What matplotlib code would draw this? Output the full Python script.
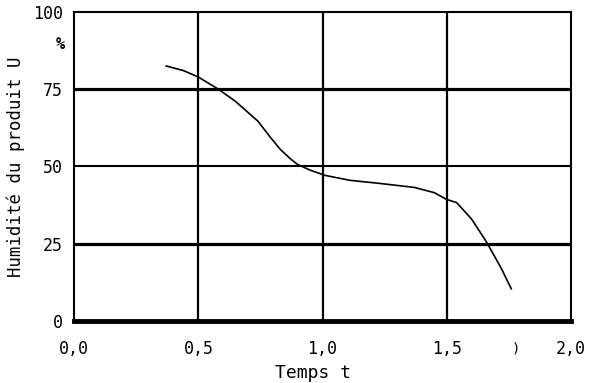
import matplotlib.pyplot as plt

# courbe de séchage
temps = [0.37, 0.44, 0.50, 0.58, 0.65, 0.74, 0.79, 0.83, 0.87, 0.90, 0.95, 1.01, 1.11, 1.23, 1.37, 1.45, 1.50, 1.54, 1.60, 1.66, 1.72, 1.76]
humidite = [82.5, 81.0, 78.9, 75.0, 71.0, 64.6, 59.4, 55.5, 52.5, 50.6, 48.8, 47.1, 45.5, 44.5, 43.2, 41.5, 39.3, 38.3, 33.0, 25.6, 17.0, 10.4]

xticks = [0.0, 0.5, 1.0, 1.5, 2.0]
xticklabels = ['0,0', '0,5', '1,0', '1,5', '2,0']
yticks = [0, 25, 50, 75, 100]

plt.rcParams['font.family'] = ['DejaVu Sans Mono']

fig = plt.figure(figsize=(5.99, 3.83), dpi=100)
ax = fig.add_axes([0.124, 0.162, 0.829, 0.807])

# grille
for x in [0.5, 1.0, 1.5]:
    ax.axvline(x, color='black', lw=1.6)
ax.axhline(75, color='black', lw=2.3)
ax.axhline(50, color='black', lw=1.5)
ax.axhline(25, color='black', lw=2.3)

ax.plot(temps, humidite, color='black', lw=1.2)

ax.set_xlim(0, 2.0)
ax.set_ylim(0, 100)
ax.set_xticks(xticks)
ax.set_xticklabels(xticklabels)
ax.set_yticks(yticks)
ax.tick_params(axis='x', length=0, labelsize=12, pad=14)
ax.tick_params(axis='y', length=0, labelsize=12, pad=8)

ax.spines['bottom'].set_linewidth(3.5)
ax.spines['left'].set_linewidth(1.5)
ax.spines['right'].set_linewidth(1.5)
ax.spines['top'].set_linewidth(1.5)

ax.set_xlabel('Temps t', fontsize=13, labelpad=0)
ax.xaxis.set_label_coords(0.48, -0.14)
ax.set_ylabel('Humidité du produit U', fontsize=12.5)
ax.yaxis.set_label_coords(-0.1, 0.5)
fig.text(0.1, 0.885, '%', fontsize=11, ha='center', va='center', fontweight='bold')
fig.text(0.862, 0.09, ')', fontsize=10, ha='center', va='center')

fig.savefig('out.png', dpi=100)
